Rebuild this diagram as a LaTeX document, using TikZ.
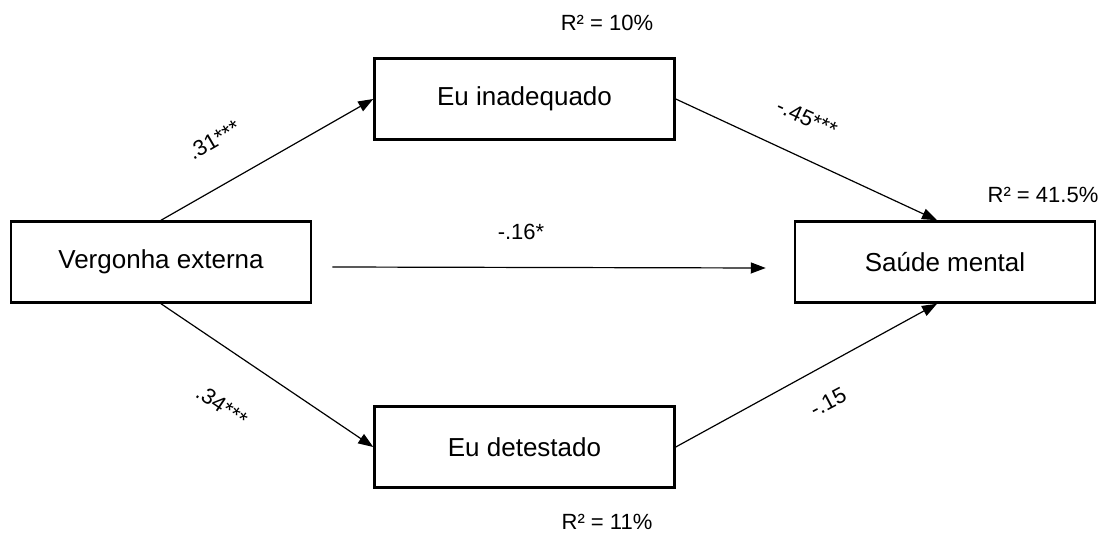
\documentclass[tikz,border=0pt]{standalone}
\usepackage{fontspec}
\setmainfont{Liberation Sans}
\usetikzlibrary{arrows.meta,calc}
\begin{document}
\begin{tikzpicture}[x=1pt,y=-1pt,
  box/.style={draw,line width=2.5pt,minimum width=300pt,minimum height=81pt,inner sep=0pt,font=\fontsize{26}{30}\selectfont},
  conn/.style={line width=1.2pt,-{Triangle[length=15pt,width=11pt]}},
  lab/.style={inner sep=0pt,font=\fontsize{22}{26}\selectfont}]
\useasboundingbox (0,0) rectangle (1113,534);
\node[box] (v) at (161,262) {Vergonha externa};
\node[box] (ei) at (524.5,99) {Eu inadequado};
\node[box] (ed) at (524.5,447) {Eu detestado};
\node[box] (sm) at (945,262) {Saúde mental};
\draw[conn] (v.north) -- (ei.west);
\draw[conn] (ei.east) -- ($(sm.north)+(-8,0)$);
\draw[conn] (v.south) -- (ed.west);
\draw[conn] (ed.east) -- ($(sm.south)+(-8,0)$);
\draw[conn] ($(v.east)+(20,5)$) -- ($(sm.west)+(-28,6)$);
\node[lab,rotate=30] (l1) at (214,140) {.31***};
\node[lab,rotate=-24.5] (l2) at (807,118) {-.45***};
\node[lab,rotate=-34] (l3) at (222,406) {.34***};
\node[lab,rotate=28] (l4) at (828,402) {-.15};
\node[lab] (l5) at (521,232) {-.16*};
\node[lab] (r1) at (607,23) {R² = 10\%};
\node[lab] (r2) at (607,522) {R² = 11\%};
\node[lab] (r3) at (1043,195) {R² = 41.5\%};
\end{tikzpicture}
\end{document}
